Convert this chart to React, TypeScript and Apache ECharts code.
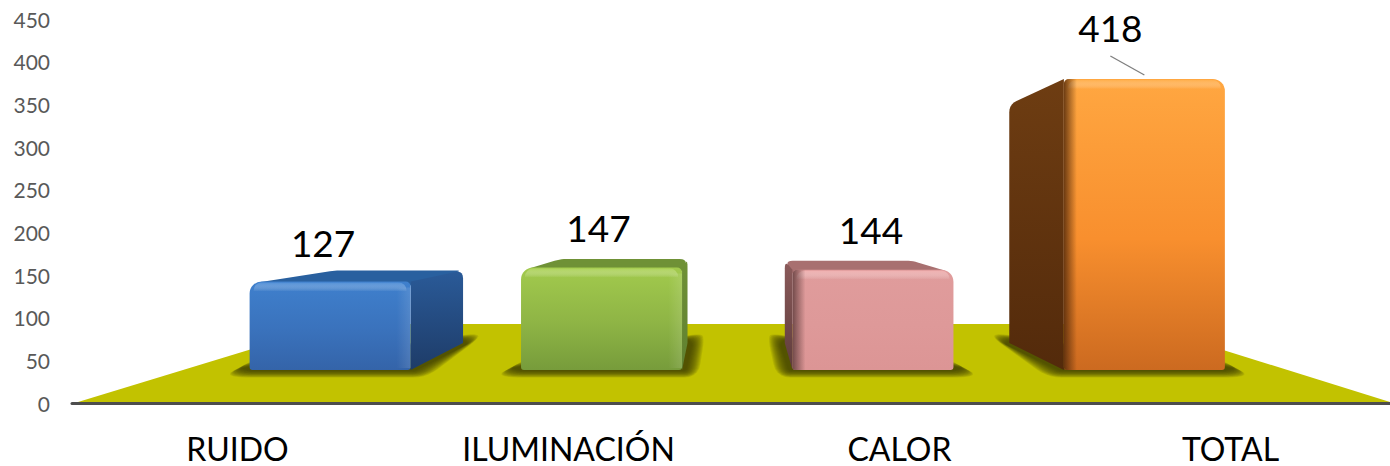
import React, { useEffect, useRef } from "react";
import * as echarts from "echarts";

const categories = ["RUIDO", "ILUMINACIÓN", "CALOR", "TOTAL"];
const values = [127, 147, 144, 418];
const axisTicks = [0, 450, 50];

const FONT = "Lato";
const BACK_W = 0.79; // back face width relative to the front
const BACK_SHIFT = 0.173; // sideways drift of the back face towards the vanishing x
const VX = 731;
const DEPTH_Y = 0.82;
const VY = 220;
const CENTER_K = 0.82; // front face centre relative to the category slot
const SLOT_VX = 752;
const FRONT_W = 161;

const palettes = [
  { top: "#3f80cd", mid: "#3a72bc", bottom: "#3464a9", sideA: "#2a5a98", sideB: "#1e3c68", lid: "#29609f", glow: "#5a97dc", fade: "rgba(30,60,104,0)" },
  { top: "#a2ca4d", mid: "#8eb445", bottom: "#779c3b", sideA: "#6f9136", sideB: "#5f8030", lid: "#6f9136", glow: "#b5d862", fade: "rgba(95,128,48,0)" },
  { top: "#e09c9c", mid: "#de9999", bottom: "#dc9595", sideA: "#8a5a5a", sideB: "#5f3c3c", lid: "#a87070", glow: "#f7b8b8", fade: "rgba(95,60,60,0)" },
  { top: "#ffa741", mid: "#f88f2e", bottom: "#cc6a20", sideA: "#6e3d12", sideB: "#532a0b", lid: "#6e3d12", glow: "#ffb352", fade: "rgba(83,42,11,0)" },
];
const labelOffsets = [[-7, -39], [-3, -40], [-2, -40], [-34, -52]];

function rounded(points: number[][], radii: number[]): number[][] {
  const out: number[][] = [];
  const n = points.length;
  for (let i = 0; i < n; i++) {
    const p = points[i];
    const a = points[(i + n - 1) % n];
    const b = points[(i + 1) % n];
    const r = radii[i];
    if (!r) { out.push(p); continue; }
    const la = Math.hypot(a[0] - p[0], a[1] - p[1]);
    const lb = Math.hypot(b[0] - p[0], b[1] - p[1]);
    const ra = Math.min(r, la / 2);
    const rb = Math.min(r, lb / 2);
    const s = [p[0] + ((a[0] - p[0]) / la) * ra, p[1] + ((a[1] - p[1]) / la) * ra];
    const e = [p[0] + ((b[0] - p[0]) / lb) * rb, p[1] + ((b[1] - p[1]) / lb) * rb];
    for (let t = 0; t <= 1.001; t += 0.2) {
      const u = 1 - t;
      out.push([u * u * s[0] + 2 * u * t * p[0] + t * t * e[0], u * u * s[1] + 2 * u * t * p[1] + t * t * e[1]]);
    }
  }
  return out;
}

const vGrad3 = (a: string, m: string, b: string) => ({ type: "linear", x: 0, y: 0, x2: 0, y2: 1, colorStops: [{ offset: 0, color: a }, { offset: 0.55, color: m }, { offset: 1, color: b }] });
const vGrad = (a: string, b: string) => ({ type: "linear", x: 0, y: 0, x2: 0, y2: 1, colorStops: [{ offset: 0, color: a }, { offset: 1, color: b }] });
const hGrad = (a: string, b: string) => ({ type: "linear", x: 0, y: 0, x2: 1, y2: 0, colorStops: [{ offset: 0, color: a }, { offset: 1, color: b }] });

function floorItem(params: any) {
  const g = params.coordSys;
  const yb = g.y + g.height - 1;
  const points = [[78, yb], [g.x + g.width - 6, yb], [1140, 324], [334, 324]];
  return { type: "polygon", shape: { points }, style: { fill: "#c2c200" } };
}

function barItem(params: any, api: any) {
  const i = api.value(0);
  const v = api.value(1);
  const slot = api.coord([i, 0])[0];
  const baseY = api.coord([i, 0])[1];
  const topY = api.coord([i, v])[1];
  const cx = SLOT_VX + (slot - SLOT_VX) * CENTER_K;
  const L = cx - FRONT_W / 2;
  const R = cx + FRONT_W / 2;
  const pal = palettes[i];
  const rightSide = cx < VX;
  const eX = rightSide ? R : L;
  const back = (p: number[]) => [
    cx + (VX - cx) * BACK_SHIFT + (p[0] - cx) * BACK_W,
    VY + (p[1] - VY) * DEPTH_Y,
  ];
  const fTop = [eX, topY];
  const fBot = [eX, baseY];
  const bTop = back(fTop);
  const bBot = back(fBot);
  const bl = back([L, topY]);
  const br = back([R, topY]);
  const children: any[] = [];

  // ground shadow: stacked translucent outlines give the soft edge
  const blb = back([L, baseY]);
  const brb = back([R, baseY]);
  const core = rightSide
    ? [[L - 10, baseY - 2], [L, baseY + 1], [R + 4, baseY + 1], [brb[0] + 5, brb[1] + 1], [brb[0], brb[1] - 3], [L, baseY - 8]]
    : [[R + 10, baseY - 2], [R, baseY + 1], [L - 4, baseY + 1], [blb[0] - 5, blb[1] + 1], [blb[0], blb[1] - 3], [R, baseY - 8]];
  const midX = (L + R) / 2;
  const midY = baseY - 14;
  const STEPS = 12;
  for (let s = 0; s < STEPS; s++) {
    const grow = STEPS - 1 - s;
    const pts = core.map((p) => [
      p[0] + Math.sign(p[0] - midX) * grow * 1.1,
      p[1] + Math.sign(p[1] - midY) * grow * 0.6,
    ]);
    children.push({
      type: "polygon",
      shape: { points: rounded(pts, pts.map(() => 3 + grow)) },
      style: { fill: "rgba(60,60,0,0.13)" },
    });
  }

  // lid
  if (bl[1] < topY) {
    const lidPts = rightSide
      ? [[L + 8, topY + 1], bl, br, [R, topY + 4]]
      : [[L, topY + 4], bl, br, [R - 8, topY + 1]];
    children.push({
      type: "polygon",
      shape: { points: rounded(lidPts, rightSide ? [0, 6, 8, 0] : [0, 8, 6, 0]) },
      style: { fill: pal.lid },
    });
  }
  // side wall
  children.push({
    type: "polygon",
    shape: { points: rounded([fTop, bTop, bBot, fBot], [0, 8, 0, 0]) },
    style: { fill: vGrad(pal.sideA, pal.sideB) },
  });
  // front
  const H = baseY - topY;
  const radii = rightSide ? [12, 5, 3, 3] : [5, 12, 3, 3];
  children.push({
    type: "rect",
    shape: { x: L, y: topY, width: FRONT_W, height: H, r: radii },
    style: { fill: vGrad3(pal.top, pal.mid, pal.bottom) },
  });
  // bevels
  children.push({
    type: "rect",
    shape: { x: L + 4, y: topY + 1, width: FRONT_W - 8, height: 9, r: [8, 8, 0, 0] },
    style: { fill: vGrad(pal.glow, "rgba(255,255,255,0)"), opacity: 0.7 },
  });
  if (rightSide) {
    children.push({
      type: "rect",
      shape: { x: R - 14, y: topY + 6, width: 14, height: H - 8 },
      style: { fill: hGrad("rgba(255,255,255,0)", "rgba(255,255,255,0.12)") },
    });
  } else {
    children.push({
      type: "rect",
      shape: { x: L, y: topY, width: 13, height: H, r: [5, 0, 0, 3] },
      style: { fill: hGrad(pal.sideB, pal.fade), opacity: 0.85 },
    });
  }
  // value
  const off = labelOffsets[i];
  children.push({
    type: "text",
    style: {
      text: String(v),
      x: cx + off[0],
      y: topY + off[1],
      fill: "#000",
      font: `37px ${FONT}`,
      align: "center",
      verticalAlign: "middle",
    },
  });
  if (i === 3) {
    children.push({
      type: "line",
      shape: { x1: cx + off[0], y1: topY - 23, x2: cx, y2: topY - 4 },
      style: { stroke: "#7f7f7f", lineWidth: 1.3 },
    });
  }
  return { type: "group", children };
}

export default function App() {
  const ref = useRef<HTMLDivElement>(null);
  useEffect(() => {
    const chart = echarts.init(ref.current!, null, { renderer: "svg" });
    chart.setOption({
      animation: false,
      backgroundColor: "#fff",
      grid: { left: 72, top: 19, width: 1324, height: 384, containLabel: false },
      xAxis: {
        type: "category",
        data: categories,
        z: 5,
        axisLine: { show: true, lineStyle: { color: "#4d4d4d", width: 3 } },
        axisTick: { show: false },
        axisLabel: { fontFamily: FONT, fontSize: 32, color: "#000", margin: 29 },
      },
      yAxis: [
        {
          type: "value",
          min: axisTicks[0],
          max: axisTicks[1],
          interval: axisTicks[2],
          axisLine: { show: false },
          axisTick: { show: false },
          splitLine: { show: false },
          axisLabel: { fontFamily: FONT, fontSize: 21, color: "#595959", margin: 22 },
        },
        { type: "value", show: false, min: -47.6, max: 504.3, splitLine: { show: false } },
      ],
      series: [
        {
          type: "custom",
          z: 1,
          clip: false,
          silent: true,
          coordinateSystem: "cartesian2d",
          data: [[0, 0]],
          renderItem: floorItem,
        },
        {
          type: "custom",
          z: 2,
          clip: false,
          yAxisIndex: 1,
          coordinateSystem: "cartesian2d",
          data: values.map((v, i) => [i, v]),
          encode: { x: 0, y: 1 },
          renderItem: barItem,
        },
      ],
    });
    return () => chart.dispose();
  }, []);
  return <div ref={ref} style={{ position: "fixed", left: 0, top: 0, width: 1396, height: 480 }} />;
}
